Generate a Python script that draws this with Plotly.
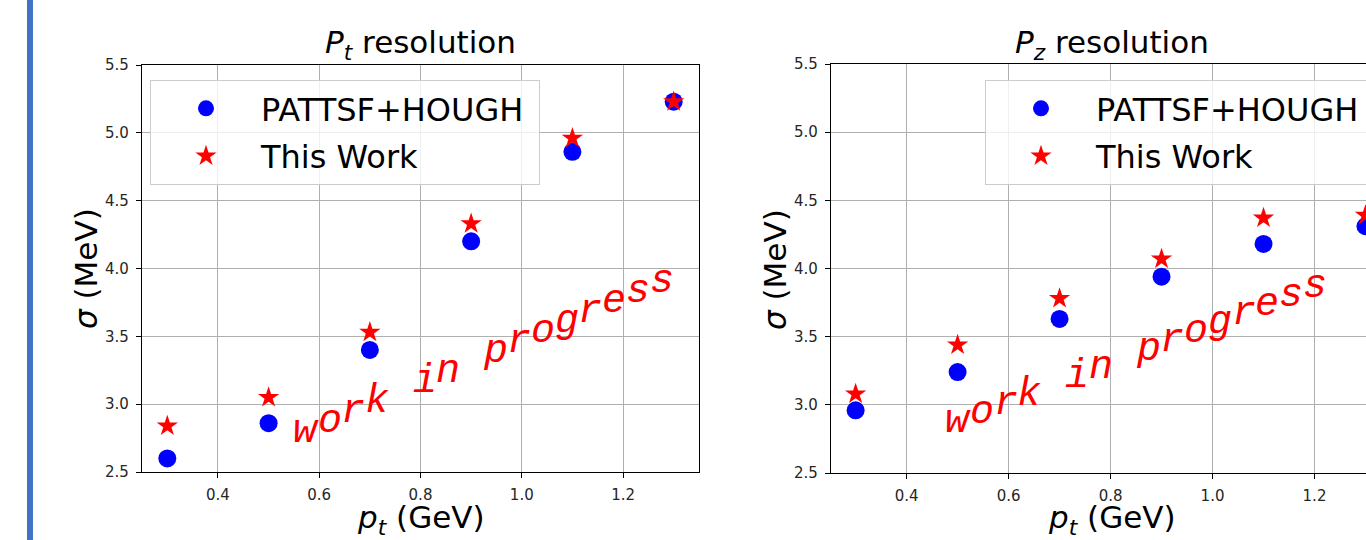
import plotly.graph_objects as go

W, H = 1366, 540

# ---- data ----
pt_bins = [0.3, 0.5, 0.7, 0.9, 1.1, 1.3]
pt_res_hough = [2.60, 2.86, 3.40, 4.20, 4.86, 5.23]
pt_res_this = [2.84, 3.05, 3.53, 4.33, 4.96, 5.23]
pz_res_hough = [2.96, 3.24, 3.63, 3.94, 4.18, 4.31]
pz_res_this = [3.08, 3.44, 3.78, 4.07, 4.37, 4.39]
x_ticks = [0.4, 0.6, 0.8, 1.0, 1.2]
y_ticks = [2.5, 3.0, 3.5, 4.0, 4.5, 5.0, 5.5]
name_hough = "PATTSF+HOUGH"
name_this = "This Work"
watermark = "work in progress"

FONT = "DejaVu Sans"
BLUE = "#0000ff"
RED = "#ff0000"


def px(x):
    return x / W


def py(y):
    return 1 - y / H


fig = go.Figure()

# left panel
fig.add_trace(go.Scatter(x=pt_bins, y=pt_res_hough, mode="markers", name=name_hough + "\u00a0",
                         marker=dict(symbol="circle", size=18, color=BLUE),
                         xaxis="x", yaxis="y", legend="legend", legendgroup="h", cliponaxis=False))
fig.add_trace(go.Scatter(x=pt_bins, y=pt_res_this, mode="markers", name=name_this,
                         marker=dict(symbol="star", size=16, color=RED),
                         xaxis="x", yaxis="y", legend="legend", legendgroup="t", cliponaxis=False))
# right panel
fig.add_trace(go.Scatter(x=pt_bins, y=pz_res_hough, mode="markers", name=name_hough + "\u00a0",
                         marker=dict(symbol="circle", size=18, color=BLUE),
                         xaxis="x2", yaxis="y2", legend="legend2", legendgroup="h2", cliponaxis=False))
fig.add_trace(go.Scatter(x=pt_bins, y=pz_res_this, mode="markers", name=name_this,
                         marker=dict(symbol="star", size=16, color=RED),
                         xaxis="x2", yaxis="y2", legend="legend2", legendgroup="t2", cliponaxis=False))

axis_common = dict(
    showgrid=True, gridcolor="#b0b0b0", gridwidth=1,
    showline=True, linecolor="black", linewidth=1.2,
    ticks="outside", ticklen=5, tickwidth=1.2, tickcolor="black",
    tickfont=dict(family=FONT, size=15, color="#262626"),
    zeroline=False, ticklabelstandoff=4,
)

legend_common = dict(
    y=py(80), xanchor="left", yanchor="top",
    bgcolor="rgba(255,255,255,0.8)", bordercolor="#cccccc", borderwidth=1,
    font=dict(family=FONT, size=32, color="black"), itemwidth=100,
    tracegroupgap=3, traceorder="grouped",
)

fig.update_layout(
    width=W, height=H, autosize=False,
    margin=dict(l=0, r=0, t=0, b=0, autoexpand=False),
    paper_bgcolor="white", plot_bgcolor="white",
    font=dict(family=FONT, color="black"),
    xaxis=dict(axis_common, domain=[px(142), px(699)], range=[0.25, 1.35],
               tickvals=x_ticks, ticktext=[f"{v:.1f}" for v in x_ticks],
               anchor="y", mirror=True),
    yaxis=dict(axis_common, domain=[py(472), py(65)], range=[2.5, 5.5],
               tickvals=y_ticks, ticktext=[f"{v:.1f}" for v in y_ticks],
               anchor="x", mirror=True),
    xaxis2=dict(axis_common, domain=[px(831), 1.0], range=[0.2517, 1.301],
                tickvals=x_ticks, ticktext=[f"{v:.1f}" for v in x_ticks],
                anchor="y2", mirror=True),
    yaxis2=dict(axis_common, domain=[py(473), py(64)], range=[2.5, 5.5],
                tickvals=y_ticks, ticktext=[f"{v:.1f}" for v in y_ticks],
                anchor="x2", mirror=False),
    legend=dict(legend_common, x=px(150)),
    legend2=dict(legend_common, x=px(985)),
    showlegend=True,
)

# left accent bar
fig.add_shape(type="rect", xref="paper", yref="paper", x0=px(27), x1=px(33), y0=0, y1=1,
              fillcolor="#4472C4", line=dict(width=0), layer="above")

ann = []
big = dict(family=FONT, size=31, color="black")
# titles
ann.append(dict(text="<i>P</i><sub><i>t</i></sub> resolution", x=px(420.5), y=py(44)))
ann.append(dict(text="<i>P</i><sub><i>z</i></sub> resolution", x=px(1112), y=py(44)))
# x labels
ann.append(dict(text="<i>p</i><sub><i>t</i></sub> (GeV)", x=px(420.5), y=py(519)))
ann.append(dict(text="<i>p</i><sub><i>t</i></sub> (GeV)", x=px(1112), y=py(519)))
# y labels
ann.append(dict(text="<i>σ</i> (MeV)", x=px(86), y=py(269), textangle=-90))
ann.append(dict(text="<i>σ</i> (MeV)", x=px(775), y=py(269), textangle=-90))
for a in ann:
    a.update(xref="paper", yref="paper", xanchor="center", yanchor="middle",
             showarrow=False, font=big)
    fig.add_annotation(**a)

# watermark, letter by letter along a rising baseline
for (x0, y0, dx, dy) in [(306, 431, 23.7, -10.0), (958, 421, 23.8, -9.0)]:
    for i, ch in enumerate(watermark):
        if ch == " ":
            continue
        fig.add_annotation(text=ch, xref="paper", yref="paper",
                           x=px(x0 + dx * i), y=py(y0 + dy * i),
                           xanchor="center", yanchor="middle", showarrow=False,
                           font=dict(family="Liberation Mono", size=40, color=RED,
                                     style="italic"))

fig.write_html(
    "out.html",
    config={"displayModeBar": False},
    post_script="document.documentElement.style.margin='0';"
                "document.body.style.margin='0';"
                "document.body.style.overflow='hidden';",
)
